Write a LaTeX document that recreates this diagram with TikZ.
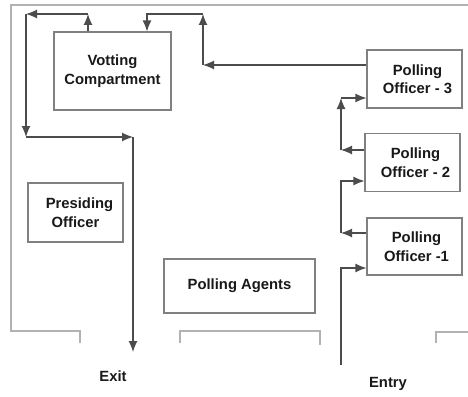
\documentclass[tikz,border=0pt]{standalone}
\usepackage{fontspec}
\setmainfont{Liberation Sans}
\usetikzlibrary{arrows.meta}
\begin{document}
\begin{tikzpicture}[x=1pt,y=-1pt,
  wall/.style={draw=black!30, line width=1.6pt},
  box/.style={draw=black!50, line width=1.1pt, align=center, inner sep=0pt,
    font=\fontsize{14.8}{18.5}\selectfont\bfseries, text=black!90},
  arr/.style={draw=black!70, line width=1.2pt, -{Latex[length=11pt,width=9pt]}},
  lbl/.style={font=\fontsize{14.8}{18.5}\selectfont\bfseries, text=black!90, inner sep=0pt}]
\useasboundingbox[fill=white] (0,0) rectangle (468,396);
% walls
\draw[wall] (468,5) -- (11,5) -- (11,331) -- (80,331) -- (80,343);
\draw[wall] (180,343) -- (180,331) -- (320,331) -- (320,345);
\draw[wall] (436,343) -- (436,332) -- (468,332);
% boxes
\node[box, minimum width=117pt, minimum height=78pt] (vc) at (112.5,71) {Votting\\Compartment};
\node[box, minimum width=95pt, minimum height=59pt] (pr) at (75.5,212.5) {\hspace*{8pt}Presiding\\Officer};
\node[box, minimum width=151pt, minimum height=54pt] (pa) at (239.5,286) {Polling Agents};
\node[box, minimum width=95pt, minimum height=58pt] (p3) at (414.5,79) {\hspace*{6pt}Polling\\\hspace*{6pt}Officer - 3};
\node[box, minimum width=95pt, minimum height=58pt] (p2) at (412.5,162.5) {\hspace*{6pt}Polling\\\hspace*{6pt}Officer - 2};
\node[box, minimum width=95pt, minimum height=57pt] (p1) at (414.5,246.5) {\hspace*{4pt}Polling\\\hspace*{4pt}Officer -1};
% labels
\node[lbl] (exit) at (113,376) {Exit};
\node[lbl] (entry) at (388,384) {Entry};
% coordinates
\coordinate (a1) at (203,65);
\coordinate (a2) at (203,14);
\coordinate (a3) at (147,14);
\coordinate (b1) at (88,14);
\coordinate (b2) at (26,14);
\coordinate (b3) at (26,137);
\coordinate (b4) at (133,137);
\coordinate (b5) at (133,352);
\coordinate (e0) at (341,365);
\coordinate (e1) at (341,268);
\coordinate (c1) at (341,233);
\coordinate (c2) at (341,181);
\coordinate (d1) at (341,150);
\coordinate (d2) at (341,98);
% officer 3 to votting compartment
\draw[arr] (p3.west |- a1) -- (a1);
\draw[arr] (a1) -- (a2);
\draw[arr] (a2) -- (a3) -- (a3 |- vc.north);
% votting compartment to exit
\draw[arr] (b1 |- vc.north) -- (b1);
\draw[arr] (b1) -- (b2);
\draw[arr] (b2) -- (b3);
\draw[arr] (b3) -- (b4);
\draw[arr] (b4) -- (b5);
% entry to officers
\draw[arr] (e0) -- (e1) -- (e1 -| p1.west);
\draw[arr] (p1.west |- c1) -- (c1);
\draw[arr] (c1) -- (c2) -- (c2 -| p2.west);
\draw[arr] (p2.west |- d1) -- (d1);
\draw[arr] (d1) -- (d2);
\draw[arr] (d2) -- (d2 -| p3.west);
\end{tikzpicture}
\end{document}
